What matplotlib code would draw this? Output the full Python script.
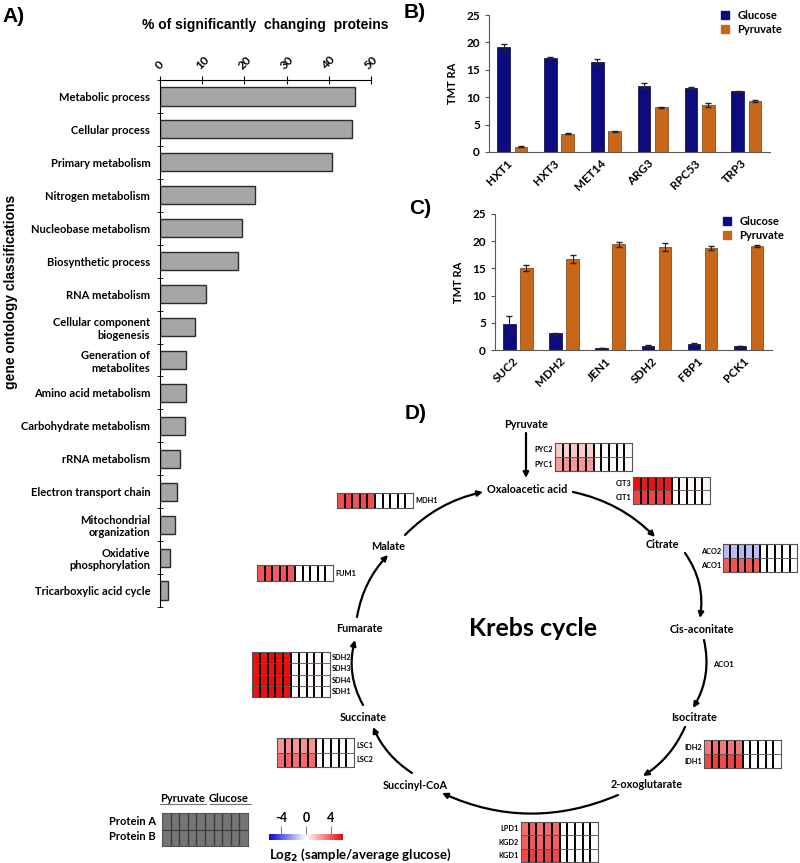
import numpy as np
import matplotlib
matplotlib.use("Agg")
import matplotlib.pyplot as plt
from matplotlib.colors import LinearSegmentedColormap, Normalize
from matplotlib.patches import FancyArrowPatch
from matplotlib.lines import Line2D

W, H = 800, 863
plt.rcParams['font.family'] = ['Lato', 'DejaVu Sans']
plt.rcParams['font.weight'] = 'bold'
plt.rcParams['axes.labelweight'] = 'bold'
plt.rcParams['mathtext.default'] = 'bf'
plt.rcParams['axes.unicode_minus'] = False

# ---------------- data ----------------
go_terms = ["Metabolic process", "Cellular process", "Primary metabolism",
            "Nitrogen metabolism", "Nucleobase metabolism", "Biosynthetic process",
            "RNA metabolism", "Cellular component\nbiogenesis", "Generation of\nmetabolites",
            "Amino acid metabolism", "Carbohydrate metabolism", "rRNA metabolism",
            "Electron transport chain", "Mitochondrial\norganization",
            "Oxidative\nphosphorylation", "Tricarboxylic acid cycle"]
go_percent = [46.2, 45.5, 40.8, 22.5, 19.5, 18.4, 11.0, 8.3, 6.2, 6.2, 5.9,
              4.7, 4.0, 3.6, 2.4, 1.8]

b_genes = ["HXT1", "HXT3", "MET14", "ARG3", "RPC53", "TRP3"]
b_glucose = [19.2, 17.1, 16.5, 12.1, 11.7, 11.1]
b_glucose_err = [0.5, 0.2, 0.4, 0.4, 0.2, 0.1]
b_pyruvate = [1.0, 3.3, 3.8, 8.2, 8.6, 9.3]
b_pyruvate_err = [0.1, 0.1, 0.1, 0.1, 0.3, 0.1]

c_genes = ["SUC2", "MDH2", "JEN1", "SDH2", "FBP1", "PCK1"]
c_glucose = [4.7, 3.1, 0.4, 0.8, 1.1, 0.7]
c_glucose_err = [1.6, 0.1, 0.05, 0.1, 0.1, 0.05]
c_pyruvate = [15.1, 16.7, 19.4, 18.9, 18.7, 19.1]
c_pyruvate_err = [0.6, 0.7, 0.4, 0.7, 0.4, 0.2]

# heatmaps: 5 pyruvate replicates then 5 glucose replicates (log2 sample/avg glucose)
pyc_labels = ["PYC2", "PYC1"]
pyc_values = [[1.3, 1.2, 1.4, 1.3, 1.2, 0.1, 0.1, 0.1, 0.1, 0.1],
              [2.4, 2.6, 2.5, 2.6, 2.4, 0.0, 0.0, 0.0, 0.0, 0.0]]
cit_labels = ["CIT3", "CIT1"]
cit_values = [[5.8, 5.6, 5.9, 5.7, 5.6, 0.3, 0.3, 0.2, 0.2, 0.3],
              [4.6, 4.8, 4.5, 4.7, 4.6, 0.0, 0.0, 0.0, 0.0, 0.0]]
aco_labels = ["ACO2", "ACO1"]
aco_values = [[-1.7, -1.6, -1.8, -1.7, -1.6, 0.0, 0.0, 0.0, 0.0, 0.0],
              [4.0, 4.2, 3.9, 4.1, 4.0, 0.0, 0.0, 0.0, 0.0, 0.0]]
mdh_labels = ["MDH1"]
mdh_values = [[4.3, 4.5, 4.2, 4.4, 4.3, 0.0, 0.0, 0.0, 0.0, 0.0]]
fum_labels = ["FUM1"]
fum_values = [[4.1, 4.3, 4.0, 4.2, 4.1, 0.0, 0.0, 0.0, 0.0, 0.0]]
sdh_labels = ["SDH2", "SDH3", "SDH4", "SDH1"]
sdh_values = [[5.9, 5.8, 6.0, 5.9, 5.8, 0.1, 0.1, 0.1, 0.1, 0.1],
              [5.8, 5.9, 5.8, 6.0, 5.9, 0.1, 0.1, 0.1, 0.1, 0.1],
              [5.9, 6.0, 5.9, 5.8, 6.0, 0.1, 0.1, 0.1, 0.1, 0.1],
              [5.8, 5.9, 6.0, 5.9, 5.8, 0.1, 0.1, 0.1, 0.1, 0.1]]
lsc_labels = ["LSC1", "LSC2"]
lsc_values = [[2.6, 2.8, 2.5, 2.7, 2.6, 0.1, 0.1, 0.1, 0.1, 0.1],
              [3.6, 3.8, 3.5, 3.7, 3.6, 0.0, 0.0, 0.0, 0.0, 0.0]]
idh_labels = ["IDH2", "IDH1"]
idh_values = [[3.3, 3.5, 3.2, 3.4, 3.3, 0.0, 0.0, 0.0, 0.0, 0.0],
              [4.5, 4.7, 4.4, 4.6, 4.5, 0.0, 0.0, 0.0, 0.0, 0.0]]
kgd_labels = ["LPD1", "KGD2", "KGD1"]
kgd_values = [[3.6, 3.8, 3.5, 3.7, 3.6, 0.0, 0.0, 0.0, 0.0, 0.0],
              [3.9, 4.1, 3.8, 4.0, 3.9, 0.0, 0.0, 0.0, 0.0, 0.0],
              [4.5, 4.7, 4.4, 4.6, 4.5, 0.0, 0.0, 0.0, 0.0, 0.0]]

colorbar_ticks = [-4, 0, 4]

NAVY = "#0c0c7e"
ORANGE = "#c8671a"
cmap = LinearSegmentedColormap.from_list("bwr2", ["#0a0ad8", "white", "#ea0a0a"])
norm = Normalize(-6, 6)


def px_rect(x0, y0, x1, y1):
    return [x0 / W, 1 - y1 / H, (x1 - x0) / W, (y1 - y0) / H]


fig = plt.figure(figsize=(W / 100, H / 100), dpi=100)

# overlay axes in pixel coordinates for the pathway diagram (drawn on top, transparent)
ov = fig.add_axes([0, 0, 1, 1])
ov.set_xlim(0, W)
ov.set_ylim(H, 0)
ov.axis('off')
ov.set_zorder(10)
ov.patch.set_visible(False)

# ---------------- panel A ----------------
axA = fig.add_axes(px_rect(160, 80, 371, 607))
axA.patch.set_visible(False)
ypos = np.arange(len(go_terms))
axA.barh(ypos, go_percent, height=0.55, color="#a6a6a6", edgecolor="#2b2b2b", lw=1)
axA.set_xlim(0, 50)
axA.set_ylim(len(go_terms) - 0.5, -0.5)
axA.xaxis.tick_top()
axA.set_xticks(range(0, 51, 10))
axA.tick_params(axis='x', direction='inout', length=6, labelsize=8.5, labelrotation=45, pad=3)
axA.set_yticks(ypos, go_terms)
axA.set_yticks(np.arange(-0.5, len(go_terms), 1), minor=True)
axA.tick_params(axis='y', which='major', length=0, labelsize=8, pad=7)
axA.tick_params(axis='y', which='minor', direction='inout', length=5)
for lab in axA.get_yticklabels():
    lab.set_multialignment('right')
axA.spines['right'].set_visible(False)
axA.spines['bottom'].set_visible(False)
fig.text(265 / W, 1 - 25 / H, "% of significantly  changing  proteins", ha='center', va='center',
         fontsize=10, family=['Liberation Sans'], weight='bold')
fig.text(11 / W, 1 - 292 / H, "gene ontology classifications", rotation=90, ha='center', va='center',
         fontsize=10, family=['Liberation Sans'], weight='bold')


# ---------------- panels B and C ----------------
def tmt_panel(rect, genes, glu, glu_err, pyr, pyr_err, legend_anchor):
    ax = fig.add_axes(rect)
    ax.patch.set_visible(False)
    x = np.arange(len(genes))
    ax.bar(x - 0.19, glu, 0.27, yerr=glu_err, color=NAVY, edgecolor="#05053a", lw=0.5,
           error_kw=dict(ecolor="#222222", elinewidth=0.8, capsize=2))
    ax.bar(x + 0.18, pyr, 0.27, yerr=pyr_err, color=ORANGE, edgecolor="#7a3c0a", lw=0.5,
           error_kw=dict(ecolor="#222222", elinewidth=0.8, capsize=2))
    ax.set_xlim(-0.5, len(genes) - 0.5)
    ax.set_ylim(0, 25)
    ax.set_yticks(range(0, 26, 5))
    ax.set_xticks(x - 0.12, genes, rotation=45, ha='right', rotation_mode='anchor')
    ax.tick_params(axis='x', length=0, labelsize=8.5, pad=4)
    ax.tick_params(axis='y', length=3, labelsize=8.5, color="#595959")
    for lab in ax.get_xticklabels() + ax.get_yticklabels():
        lab.set_fontweight('bold')
    for s in ('top', 'right'):
        ax.spines[s].set_visible(False)
    for s in ('left', 'bottom'):
        ax.spines[s].set_color("#595959")
    ax.set_ylabel("TMT RA", fontsize=8, labelpad=6, fontweight='bold')
    handles = [Line2D([], [], marker='s', ls='', color=NAVY, markersize=6, label='Glucose'),
               Line2D([], [], marker='s', ls='', color=ORANGE, markersize=6, label='Pyruvate')]
    ax.legend(handles=handles, loc='upper right', bbox_to_anchor=legend_anchor, frameon=False,
              prop=dict(size=8, weight='bold'), handletextpad=0.6, labelspacing=0.25,
              borderaxespad=0, handlelength=1)
    return ax


tmt_panel(px_rect(489, 15, 770, 152), b_genes, b_glucose, b_glucose_err,
          b_pyruvate, b_pyruvate_err, (1.06, 1.07))
tmt_panel(px_rect(495, 214, 772, 350), c_genes, c_glucose, c_glucose_err,
          c_pyruvate, c_pyruvate_err, (1.06, 1.02))

# panel letters
for letter, (px, py) in {"A)": (14, 16), "B)": (415, 13), "C)": (420, 209), "D)": (416, 413)}.items():
    fig.text(px / W, 1 - py / H, letter, ha='center', va='center', fontsize=15,
             family=['Liberation Sans'], weight='bold')


# ---------------- panel D: heatmaps ----------------
def heatmap(box, labels, values, side):
    ax = fig.add_axes(px_rect(*box))
    vals = np.array(values)
    n = vals.shape[0]
    ax.pcolormesh(vals, cmap=cmap, norm=norm)
    ax.set_xlim(0, 10)
    ax.set_ylim(n, 0)
    for c in range(1, 10):
        ax.axvline(c, color='black', lw=1.4)
    for r in range(1, n):
        ax.axhline(r, color='#555555', lw=0.6)
    ax.set_xticks([])
    ax.set_yticks([])
    for s in ax.spines.values():
        s.set_color('#555555')
        s.set_linewidth(0.8)
    for r, lab in enumerate(labels):
        if side == 'left':
            ax.text(-0.25, r + 0.5, lab, ha='right', va='center', fontsize=5.3)
        else:
            ax.text(10.25, r + 0.5, lab, ha='left', va='center', fontsize=5.3)
    return ax


heatmap((555, 443, 632, 471), pyc_labels, pyc_values, 'left')
heatmap((633, 477, 710, 504), cit_labels, cit_values, 'left')
heatmap((723, 544, 797, 572), aco_labels, aco_values, 'left')
heatmap((337, 493, 413, 508), mdh_labels, mdh_values, 'right')
heatmap((257, 565, 333, 581), fum_labels, fum_values, 'right')
heatmap((252, 652, 330, 697), sdh_labels, sdh_values, 'right')
heatmap((277, 738, 354, 767), lsc_labels, lsc_values, 'right')
heatmap((704, 740, 781, 768), idh_labels, idh_values, 'left')
heatmap((521, 822, 598, 862), kgd_labels, kgd_values, 'left')

# ---------------- panel D: pathway ----------------
metabolites = {
    "Pyruvate": (526, 424), "Oxaloacetic acid": (527, 489), "Citrate": (662, 544),
    "Cis-aconitate": (702, 629), "Isocitrate": (694, 717), "2-oxoglutarate": (647, 784),
    "Succinyl-CoA": (415, 785), "Succinate": (363, 717), "Fumarate": (359, 628),
    "Malate": (388, 546),
}
for name, (mx, my) in metabolites.items():
    ov.text(mx, my, name, ha='center', va='center', fontsize=7.8)
ov.text(723, 664, "ACO1", ha='center', va='center', fontsize=5.5)
ov.text(533, 628, "Krebs cycle", ha='center', va='center', fontsize=18)

arrows = [((526, 433), (526, 478), 0.0),
          ((573, 492), (655, 537), -0.15),
          ((685, 553), (700, 618), -0.2),
          ((704, 640), (693, 708), -0.2),
          ((685, 727), (643, 776), -0.15),
          ((618, 795), (442, 793), -0.22),
          ((412, 773), (373, 727), -0.15),
          ((363, 705), (355, 640), -0.2),
          ((357, 617), (388, 555), -0.15),
          ((405, 535), (483, 492), -0.15)]
for p, q, rad in arrows:
    ov.add_patch(FancyArrowPatch(p, q, connectionstyle=f"arc3,rad={rad}", arrowstyle='-|>',
                                 mutation_scale=8, lw=1.6, color='black', shrinkA=0, shrinkB=0))

# ---------------- legend heatmap ----------------
axL = fig.add_axes(px_rect(162, 813, 248, 846))
axL.pcolormesh(np.full((2, 10), 0.62), cmap='Greys', vmin=0, vmax=1)
axL.set_xlim(0, 10)
axL.set_ylim(2, 0)
for c in range(1, 10):
    axL.axvline(c, color='#3c3c3c', lw=1.0)
axL.axhline(1, color='#3c3c3c', lw=0.8)
axL.set_xticks([])
axL.set_yticks([])
for s in axL.spines.values():
    s.set_color('#555555')
ov.text(156, 821, "Protein A", ha='right', va='center', fontsize=8)
ov.text(156, 836, "Protein B", ha='right', va='center', fontsize=8)
ov.text(183, 798, "Pyruvate", ha='center', va='center', fontsize=8)
ov.text(229, 798, "Glucose", ha='center', va='center', fontsize=8)
ov.plot([160, 206], [804, 804], color='#777777', lw=0.8)
ov.plot([210, 251], [804, 804], color='#777777', lw=0.8)

# colorbar
axC = fig.add_axes(px_rect(269, 834, 343, 840))
axC.imshow(np.linspace(-6, 6, 256)[None, :], cmap=cmap, norm=norm, aspect='auto', extent=(-6, 6, 0, 1))
axC.set_yticks([])
axC.xaxis.tick_top()
axC.set_xticks(colorbar_ticks)
axC.tick_params(axis='x', length=6, color='#888888', labelsize=9, pad=1)
for s in axC.spines.values():
    s.set_visible(False)
ov.text(269, 855, "Log$_2$ (sample/average glucose)", ha='left', va='center', fontsize=9.5)

fig.savefig("out.png", dpi=100)
